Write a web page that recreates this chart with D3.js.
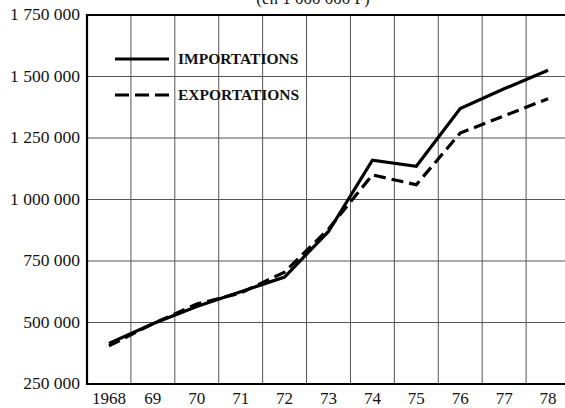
<!DOCTYPE html>
<html>
<head>
<meta charset="utf-8">
<script src="https://cdn.jsdelivr.net/npm/d3@7/dist/d3.min.js"></script>
<style>
  html, body { margin: 0; padding: 0; background: #fff; }
  svg { display: block; }
  text { font-family: "Liberation Serif", "Times New Roman", serif; fill: #111; }
</style>
</head>
<body>
<svg id="chart" width="565" height="408"></svg>
<script>
// Commerce extérieur, 1968–1978
const years = [1968, 1969, 1970, 1971, 1972, 1973, 1974, 1975, 1976, 1977, 1978];
const yearLabels = ["1968", "69", "70", "71", "72", "73", "74", "75", "76", "77", "78"];
const importations = [415000, 495000, 565000, 625000, 685000, 870000, 1160000, 1135000, 1370000, 1450000, 1525000];
const exportations = [405000, 495000, 575000, 620000, 705000, 880000, 1100000, 1060000, 1270000, 1340000, 1410000];
const yTicks = [250000, 500000, 750000, 1000000, 1250000, 1500000, 1750000];
const seriesNames = ["IMPORTATIONS", "EXPORTATIONS"];
const unitLabel = "(en 1 000 000 F)";

const W = 565, H = 408;
const margin = { top: 15, left: 87, bottom: 24 };
const svg = d3.select("#chart");

const x = d3.scaleLinear().domain([1967.5, 1978.5]).range([margin.left, 570]);
const y = d3.scaleLinear().domain([250000, 1750000]).range([H - margin.bottom, margin.top]);

const fr = d3.formatLocale({ decimal: ",", thousands: " ", grouping: [3], currency: ["", " F"] });
const fmt = fr.format(",d");

// unit caption, sitting above the frame
svg.append("text")
  .attr("x", 313).attr("y", 4)
  .attr("text-anchor", "middle")
  .style("font-size", "17px")
  .text(unitLabel);

// grid
const grid = svg.append("g");
grid.selectAll("line.h")
  .data(yTicks)
  .join("line")
  .attr("x1", margin.left).attr("x2", W)
  .attr("y1", d => y(d)).attr("y2", d => y(d))
  .attr("stroke", "#555").attr("stroke-width", 1);

const vGrid = d3.range(1968.5, 1978.5, 1);
grid.selectAll("line.v")
  .data(vGrid)
  .join("line")
  .attr("x1", d => x(d)).attr("x2", d => x(d))
  .attr("y1", y(1750000)).attr("y2", y(250000))
  .attr("stroke", "#555").attr("stroke-width", 1);

// frame: top, left, bottom
svg.append("line")
  .attr("x1", margin.left).attr("x2", W)
  .attr("y1", y(1750000)).attr("y2", y(1750000))
  .attr("stroke", "#000").attr("stroke-width", 2.2);
svg.append("line")
  .attr("x1", margin.left).attr("x2", W)
  .attr("y1", y(250000)).attr("y2", y(250000))
  .attr("stroke", "#000").attr("stroke-width", 2.2);
svg.append("line")
  .attr("x1", margin.left).attr("x2", margin.left)
  .attr("y1", y(1750000) - 1).attr("y2", y(250000) + 1)
  .attr("stroke", "#000").attr("stroke-width", 2.2);

// y labels
svg.append("g").selectAll("text")
  .data(yTicks)
  .join("text")
  .attr("x", 80)
  .attr("y", d => y(d) + 5)
  .attr("text-anchor", "end")
  .style("font-size", "17.5px")
  .text(d => fmt(d));

// x labels
svg.append("g").selectAll("text")
  .data(years)
  .join("text")
  .attr("x", d => x(d))
  .attr("y", 404)
  .attr("text-anchor", "middle")
  .style("font-size", "17px")
  .text((d, i) => yearLabels[i]);

// series
const line = d3.line().x((d, i) => x(years[i])).y(d => y(d));

svg.append("path")
  .datum(exportations)
  .attr("d", line)
  .attr("fill", "none")
  .attr("stroke", "#000")
  .attr("stroke-width", 3.2)
  .attr("stroke-dasharray", "12,6");

svg.append("path")
  .datum(importations)
  .attr("d", line)
  .attr("fill", "none")
  .attr("stroke", "#000")
  .attr("stroke-width", 3.2)
  .attr("stroke-linejoin", "miter");

// legend
const legend = svg.append("g");
const legendRows = [
  { name: seriesNames[0], dash: null, y: 59 },
  { name: seriesNames[1], dash: "14,6", y: 95 }
];
legendRows.forEach(r => {
  legend.append("line")
    .attr("x1", 115).attr("x2", 169)
    .attr("y1", r.y).attr("y2", r.y)
    .attr("stroke", "#000").attr("stroke-width", 3.2)
    .attr("stroke-dasharray", r.dash);
  legend.append("text")
    .attr("x", 178).attr("y", r.y + 5)
    .style("font-size", "15.5px")
    .style("font-weight", "bold")
    .text(r.name);
});
</script>
</body>
</html>
